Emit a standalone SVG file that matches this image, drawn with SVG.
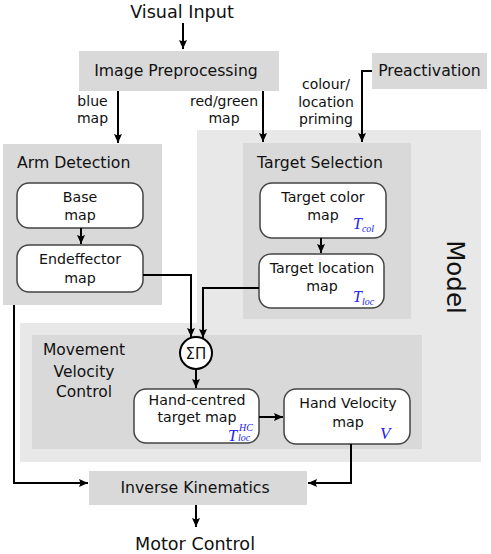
<svg xmlns="http://www.w3.org/2000/svg" width="491" height="554" viewBox="0 0 491 554">
<defs>
<marker id="ah" markerWidth="10" markerHeight="8" refX="9" refY="4" orient="auto" markerUnits="userSpaceOnUse">
<path d="M0,0 L9,4 L0,8 L1.5,4 z" fill="#000"/>
</marker>
<style>
text{font-family:"DejaVu Sans",Verdana,sans-serif;fill:#111;}
.big{font-size:17.6px;text-anchor:middle;}
.box{fill:#d9d9d9;}
.ttl{font-size:15.7px;}
.node{fill:#fff;stroke:#444;stroke-width:1.5;}
.nl{font-size:14.2px;text-anchor:middle;}
.lbl{font-size:14px;text-anchor:middle;}
.math{font-family:"Liberation Serif","Times New Roman",serif;font-style:italic;fill:#2222ee;}
.con{fill:none;stroke:#000;stroke-width:2;}
</style>
</defs>
<rect width="491" height="554" fill="#fff"/>

<g id="model">
<polygon points="197,130 481,130 481,462 20,462 20,323 197,323" fill="#e8e8e8"/>
<text transform="translate(447,277) rotate(90)" style="font-size:24.5px;text-anchor:middle">Model</text>
</g>

<g id="visual-input"><text class="big" x="182" y="18">Visual Input</text></g>

<g id="image-preprocessing">
<rect class="box" x="79" y="51" width="200" height="40"/>
<text class="ttl" x="176" y="76" text-anchor="middle">Image Preprocessing</text>
</g>

<g id="preactivation">
<rect class="box" x="372" y="53" width="115" height="36"/>
<text class="ttl" x="429.5" y="76" text-anchor="middle">Preactivation</text>
</g>

<g id="arm-detection">
<rect class="box" x="3" y="144" width="159" height="161"/>
<text class="ttl" x="17" y="168">Arm Detection</text>
</g>

<g id="base-map">
<rect class="node" x="17" y="183" width="126" height="45" rx="12"/>
<text class="nl" x="80" y="202">Base</text>
<text class="nl" x="80" y="220">map</text>
</g>

<g id="endeffector-map">
<rect class="node" x="17" y="245" width="126" height="47" rx="12"/>
<text class="nl" x="80" y="264">Endeffector</text>
<text class="nl" x="80" y="283">map</text>
</g>

<g id="target-selection">
<rect class="box" x="243" y="143" width="168" height="176"/>
<text class="ttl" x="320" y="168" text-anchor="middle">Target Selection</text>
</g>

<g id="target-color-map">
<rect class="node" x="260" y="183" width="126" height="55" rx="12"/>
<text class="nl" x="323" y="202">Target color</text>
<text class="nl" x="323" y="220">map</text>
<text class="math" x="353" y="229" style="font-size:16px">T<tspan dy="3" style="font-size:10px">col</tspan></text>
</g>

<g id="target-location-map">
<rect class="node" x="259" y="254" width="125" height="54" rx="12"/>
<text class="nl" x="322" y="273">Target location</text>
<text class="nl" x="322" y="291">map</text>
<text class="math" x="353" y="302" style="font-size:16px">T<tspan dy="3" style="font-size:10px">loc</tspan></text>
</g>

<g id="movement-velocity-control">
<rect class="box" x="32" y="335" width="390" height="114"/>
<text class="ttl" x="84" y="355" text-anchor="middle" style="font-size:15.5px">Movement</text>
<text class="ttl" x="84" y="377" text-anchor="middle" style="font-size:15.5px">Velocity</text>
<text class="ttl" x="84" y="397" text-anchor="middle" style="font-size:15.5px">Control</text>
</g>

<g id="sigma-pi">
<circle cx="196" cy="353" r="16" fill="#fff" stroke="#000" stroke-width="2"/>
<text x="196" y="358.5" style="font-size:15px;text-anchor:middle">ΣΠ</text>
</g>

<g id="hand-centred-target-map">
<rect class="node" x="134" y="389" width="125" height="54" rx="12"/>
<text class="nl" x="197" y="405">Hand-centred</text>
<text class="nl" x="197" y="422">target map</text>
<text class="math" x="228" y="441" style="font-size:16.5px">T</text>
<text class="math" x="239" y="431" style="font-size:10px">HC</text>
<text class="math" x="238" y="441" style="font-size:10px">loc</text>
</g>

<g id="hand-velocity-map">
<rect class="node" x="284" y="389" width="126" height="55" rx="12"/>
<text class="nl" x="348" y="408">Hand Velocity</text>
<text class="nl" x="348" y="427">map</text>
<text class="math" x="380" y="439" style="font-size:17px">V</text>
</g>

<g id="inverse-kinematics">
<rect class="box" x="89" y="471" width="218" height="34"/>
<text class="ttl" x="195" y="493" text-anchor="middle">Inverse Kinematics</text>
</g>

<g id="motor-control"><text class="big" x="195" y="550">Motor Control</text></g>

<g id="labels">
<text class="lbl" x="92.5" y="106">blue</text>
<text class="lbl" x="92.5" y="123">map</text>
<text class="lbl" x="224" y="106">red/green</text>
<text class="lbl" x="224" y="123">map</text>
<text class="lbl" x="326" y="89">colour/</text>
<text class="lbl" x="326" y="107">location</text>
<text class="lbl" x="326" y="124">priming</text>
</g>

<g id="connectors">
<path class="con" d="M183,23 V49" marker-end="url(#ah)"/>
<path class="con" d="M118,91 V143" marker-end="url(#ah)"/>
<path class="con" d="M263,91 V142" marker-end="url(#ah)"/>
<path class="con" d="M372,71 H362 V142" marker-end="url(#ah)"/>
<path class="con" d="M81,228 V244" marker-end="url(#ah)"/>
<path class="con" d="M321,238 V253" marker-end="url(#ah)"/>
<path class="con" d="M143,275 H191 V337" marker-end="url(#ah)"/>
<path class="con" d="M259,288 H203 V338" marker-end="url(#ah)"/>
<path class="con" d="M196,369 V388" marker-end="url(#ah)"/>
<path class="con" d="M259,417 H283" marker-end="url(#ah)"/>
<path class="con" d="M351,444 V483 H308" marker-end="url(#ah)"/>
<path class="con" d="M14,305 V483 H88" marker-end="url(#ah)"/>
<path class="con" d="M196,505 V527" marker-end="url(#ah)"/>
</g>
</svg>
